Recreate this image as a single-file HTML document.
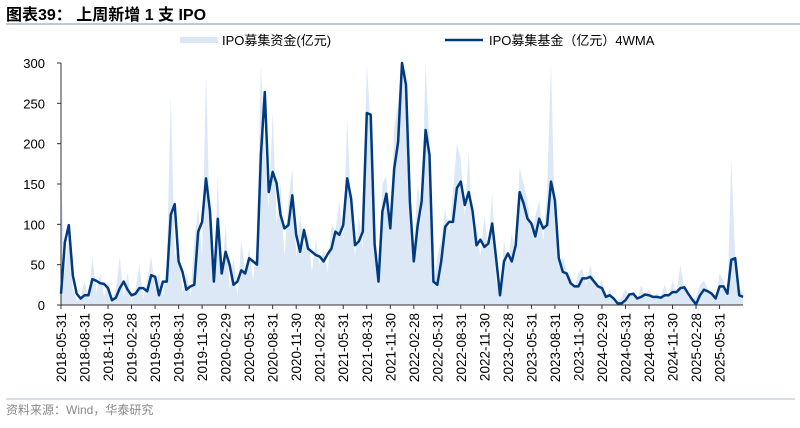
<!DOCTYPE html>
<html><head><meta charset="utf-8"><style>
body{margin:0;background:#fff;width:800px;height:423px;overflow:hidden;font-family:"Liberation Sans","Noto Sans CJK SC",sans-serif}
</style></head><body>
<svg id="c" width="800" height="423" xmlns="http://www.w3.org/2000/svg">
<text x="6" y="20" font-size="16" font-weight="bold" fill="#000" font-family="Liberation Sans,Noto Sans CJK SC,sans-serif">图表39：  上周新增 1 支 IPO</text>
<line x1="6" y1="24" x2="800" y2="24" stroke="#8496b0" stroke-width="1"/>
<rect x="180" y="37" width="38" height="6" fill="#dce8f5"/>
<text x="222" y="45" font-size="13" fill="#000">IPO募集资金(亿元)</text>
<line x1="445" y1="40" x2="483" y2="40" stroke="#003a80" stroke-width="2.5"/>
<text x="489" y="45" font-size="13" fill="#000">IPO募集基金（亿元）4WMA</text>
<g id="plot"></g>
<line x1="6" y1="399" x2="795" y2="399" stroke="#c9d3e0" stroke-width="1.5"/>
<text x="6" y="414" font-size="12" fill="#888">资料来源：Wind，华泰研究</text>
</svg>
<script>
const lineVals=[14,78,99,37,14,8,12,12,32,30,27,26,21,6,9,21,29,19,12,14,21,21,17,37,35,12,29,29,112,125,54,41,19,23,25,91,103,157,116,29,107,39,66,50,25,29,43,39,58,54,50,186,264,140,165,151,112,95,99,136,87,66,93,70,66,62,60,54,63,70,91,87,99,157,132,74,79,91,238,236,76,29,116,138,95,169,202,300,273,128,54,99,128,217,186,29,25,54,97,103,103,145,153,124,140,116,74,81,72,76,101,58,12,54,64,54,74,140,126,107,101,85,107,95,99,153,130,58,41,39,27,23,23,33,33,35,29,23,21,10,12,8,2,2,6,13,14,8,10,13,12,10,10,9,12,12,16,16,21,22,14,7,1,12,19,17,14,8,23,23,14,56,58,12,10];
const barVals=[160,40,90,20,5,10,30,8,60,15,40,10,30,5,20,60,10,40,5,20,50,8,30,60,20,40,10,50,260,60,70,15,40,10,80,120,60,290,90,20,160,30,100,20,60,10,80,40,70,30,80,300,190,120,240,100,150,60,130,170,60,110,70,90,40,80,50,70,40,100,90,130,80,230,120,60,110,70,300,220,100,20,150,160,90,220,250,300,290,100,70,150,110,300,200,20,60,80,120,90,140,200,180,110,190,90,100,60,110,70,140,30,10,80,50,90,60,170,150,130,90,110,130,80,140,300,100,50,60,40,35,20,40,45,25,50,30,20,30,10,20,5,5,10,20,10,15,5,25,10,20,8,15,10,25,10,30,15,50,20,10,5,10,25,30,20,15,5,40,30,10,180,60,20,15];
const yTicks=[0,50,100,150,200,250,300];
const xLabels=["2018-05-31","2018-08-31","2018-11-30","2019-02-28","2019-05-31","2019-08-31","2019-11-30","2020-02-29","2020-05-31","2020-08-31","2020-11-30","2021-02-28","2021-05-31","2021-08-31","2021-11-30","2022-02-28","2022-05-31","2022-08-31","2022-11-30","2023-02-28","2023-05-31","2023-08-31","2023-11-30","2024-02-29","2024-05-31","2024-08-31","2024-11-30","2025-02-28","2025-05-31"];
const X0=61,X1=743,Y0=305,Y1=63,STEP=0.5;
const xm=m=>X0+m*7.84;
const xi=i=>xm(i*STEP);
const y=v=>Y0-(Math.min(v,300))*(Y0-Y1)/300;
const NS="http://www.w3.org/2000/svg";
const g=document.getElementById('plot');
function mk(t,a){const e=document.createElementNS(NS,t);for(const k in a)e.setAttribute(k,a[k]);g.appendChild(e);return e;}
let d=`M${xi(0)},${Y0}`;
barVals.forEach((v,i)=>{d+=` L${xi(i).toFixed(1)},${y(v).toFixed(1)}`;});
d+=` L${xi(barVals.length-1)},${Y0} Z`;
const area=mk('path',{d:d,fill:'#dce8f5'});


const ya=mk('line',{x1:X0,y1:Y1,x2:X0,y2:Y0,stroke:'#333','stroke-width':1});


yTicks.forEach(t=>{
 const tk=mk('line',{x1:X0-4,y1:y(t),x2:X0,y2:y(t),stroke:'#333'});
 
 
 const tx=mk('text',{x:45,y:y(t)+5,'font-size':13,'text-anchor':'end',fill:'#000'});
 tx.textContent=t;
 
 
});
const xa=mk('line',{x1:X0,y1:Y0,x2:X1,y2:Y0,stroke:'#333','stroke-width':1});


xLabels.forEach((l,i)=>{
 const x=xm(i*3);
 const tk=mk('line',{x1:x,y1:Y0,x2:x,y2:Y0+4,stroke:'#333'});
 
 
 const tx=mk('text',{x:0,y:0,'font-size':13.5,'text-anchor':'end',fill:'#000',transform:`translate(${x+5},${Y0+8}) rotate(-90)`});
 tx.textContent=l;
 
 
});
const pts=lineVals.map((v,i)=>`${xi(i).toFixed(1)},${y(v).toFixed(1)}`).join(' ');
const ln=mk('polyline',{points:pts,fill:'none',stroke:'#003a80','stroke-width':2.5,'stroke-linejoin':'round'});


</script>
</body></html>
